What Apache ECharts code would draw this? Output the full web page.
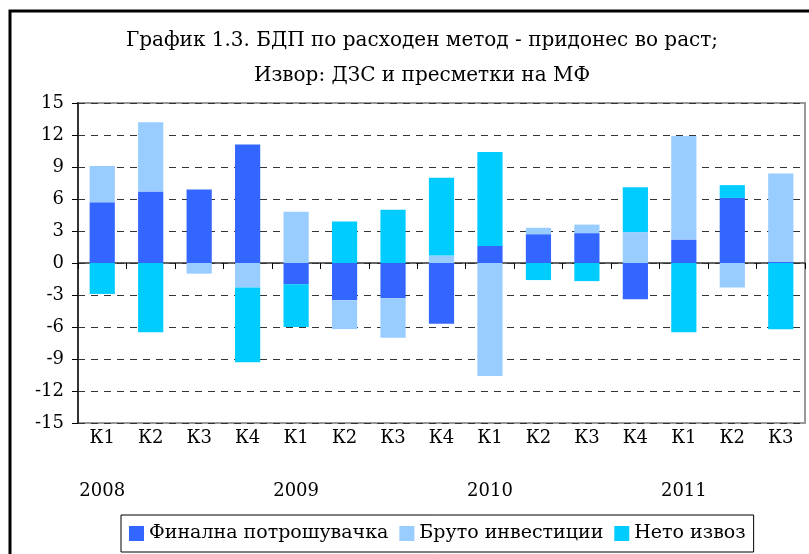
<!DOCTYPE html>
<html>
<head>
<meta charset="utf-8">
<script src="https://cdn.jsdelivr.net/npm/echarts@6/dist/echarts.min.js"></script>
<style>
  html, body { margin: 0; padding: 0; background: #fff; }
  #chart { width: 809px; height: 554px; }
</style>
</head>
<body>
<div id="chart"></div>
<script>
var quarters = ['К1', 'К2', 'К3', 'К4', 'К1', 'К2', 'К3', 'К4', 'К1', 'К2', 'К3', 'К4', 'К1', 'К2', 'К3'];
var years = ['2008', '', '', '', '2009', '', '', '', '2010', '', '', '', '2011', '', ''];
var finalna = [5.7, 6.7, 6.9, 11.1, -2.0, -3.5, -3.3, -5.7, 1.6, 2.7, 2.8, -3.4, 2.2, 6.1, 0.1];
var bruto = [3.4, 6.5, -1.0, -2.3, 4.8, -2.7, -3.7, 0.7, -10.6, 0.6, 0.8, 2.9, 9.7, -2.3, 8.3];
var neto = [-2.9, -6.5, 0, -7.0, -4.0, 3.9, 5.0, 7.3, 8.8, -1.6, -1.7, 4.2, -6.5, 1.2, -6.2];
var yTicks = [-15, 15, 3];

var font = 'DejaVu Serif';
var myChart = echarts.init(document.getElementById('chart'));

var option = {
    animation: false,
    backgroundColor: '#fff',
    title: {
        text: 'График 1.3. БДП по расходен метод - придонес во раст;\nИзвор: ДЗС и пресметки на МФ',
        left: 417,
        textAlign: 'center',
        top: 18,
        textStyle: { fontFamily: font, fontSize: 20, fontWeight: 'normal', color: '#000', lineHeight: 35 }
    },
    graphic: [{
        type: 'rect',
        shape: { x: 10, y: 11, width: 820, height: 580 },
        style: { fill: 'none', stroke: '#000', lineWidth: 3 },
        silent: true
    }],
    legend: {
        left: 121,
        top: 515,
        icon: 'rect',
        itemWidth: 15,
        itemHeight: 15,
        itemGap: 11,
        padding: [9, 8, 9, 8],
        borderColor: '#000',
        borderWidth: 1,
        textStyle: { fontFamily: font, fontSize: 19, color: '#000' },
        data: ['Финална потрошувачка', 'Бруто инвестиции', 'Нето извоз']
    },
    grid: {
        left: 78, right: 4, top: 103, bottom: 131,
        show: true, borderColor: '#999', borderWidth: 2, backgroundColor: 'transparent'
    },
    xAxis: [{
        type: 'category',
        data: quarters,
        axisLine: { onZero: true, lineStyle: { color: '#333', width: 1.5 } },
        axisTick: { show: true, length: 6, lineStyle: { color: '#000' } },
        axisLabel: { show: false }
    }, {
        type: 'category',
        data: quarters,
        position: 'bottom',
        axisLine: { show: false, onZero: false },
        axisTick: { show: false },
        axisLabel: { margin: 6, fontFamily: font, fontSize: 18, color: '#000' }
    }, {
        type: 'category',
        data: years,
        position: 'bottom',
        offset: 58,
        axisLine: { show: false, onZero: false },
        axisTick: { show: false },
        axisLabel: { margin: 1, interval: 0, fontFamily: font, fontSize: 18, color: '#000' }
    }],
    yAxis: {
        type: 'value',
        min: yTicks[0],
        max: yTicks[1],
        interval: yTicks[2],
        axisLine: { show: true, lineStyle: { color: '#333', width: 2 } },
        axisTick: { show: true, length: 6, lineStyle: { color: '#000' } },
        axisLabel: { margin: 14, fontFamily: font, fontSize: 18, color: '#000' },
        splitLine: { show: true, lineStyle: { color: '#333', type: [7, 6], width: 1 } }
    },
    series: [{
        name: 'Финална потрошувачка',
        type: 'bar',
        stack: 'bdp',
        barWidth: '52%',
        itemStyle: { color: '#3366FF' },
        data: finalna
    }, {
        name: 'Бруто инвестиции',
        type: 'bar',
        stack: 'bdp',
        itemStyle: { color: '#99CCFF' },
        data: bruto
    }, {
        name: 'Нето извоз',
        type: 'bar',
        stack: 'bdp',
        itemStyle: { color: '#00CCFF' },
        data: neto
    }]
};
myChart.setOption(option);
</script>
</body>
</html>
